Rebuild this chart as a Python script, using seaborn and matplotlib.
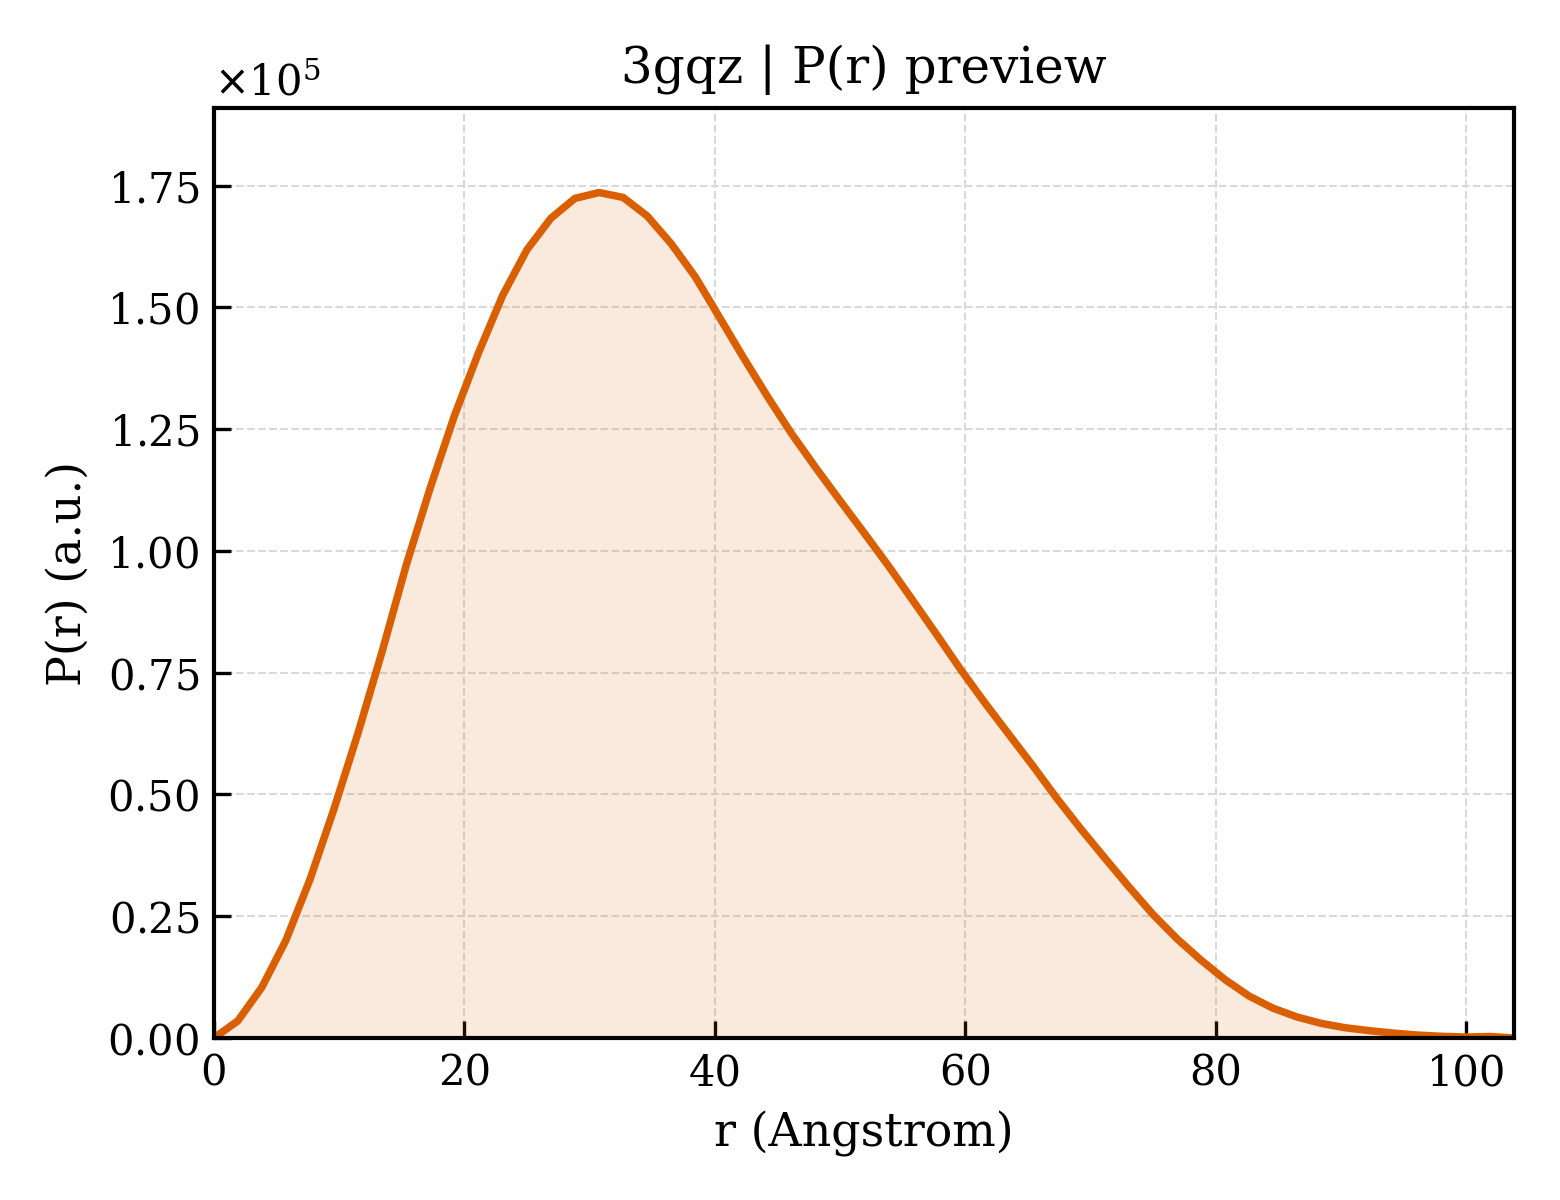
import matplotlib
matplotlib.use("Agg")
import matplotlib.pyplot as plt
import seaborn as sns
import pandas as pd

sns.set_style("white")
plt.rcParams['font.family'] = ['DejaVu Serif']
plt.rcParams['text.color'] = 'black'
plt.rcParams['axes.labelcolor'] = 'black'
plt.rcParams['xtick.color'] = 'black'
plt.rcParams['ytick.color'] = 'black'

# P(r) curve (r in Angstrom, P in a.u.)
r_vals = [0.00, 1.92, 3.84, 5.77, 7.69, 9.61, 11.53, 13.46, 15.38, 17.30,
          19.22, 21.14, 23.07, 24.99, 26.91, 28.83, 30.76, 32.68, 34.60, 36.52,
          38.44, 40.37, 42.29, 44.21, 46.13, 48.06, 49.98, 51.90, 53.82, 55.74,
          57.67, 59.59, 61.51, 63.43, 65.36, 67.28, 69.20, 71.12, 73.04, 74.97,
          76.89, 78.81, 80.73, 82.66, 84.58, 86.50, 88.42, 90.34, 92.27, 94.19,
          96.11, 98.03, 99.96, 101.88, 103.80]
p_vals = [0.0, 3.5, 10.4, 20.1, 32.6, 47.1, 62.7, 79.5, 97.2, 113.1,
          127.8, 140.7, 152.5, 161.8, 168.3, 172.4, 173.6, 172.6, 168.8, 163.1,
          156.3, 148.0, 139.7, 131.7, 124.1, 117.1, 110.4, 103.8, 97.1, 90.1,
          83.0, 75.8, 69.0, 62.5, 56.0, 49.3, 43.0, 37.0, 31.1, 25.4,
          20.4, 16.0, 12.0, 8.6, 6.1, 4.3, 3.0, 2.1, 1.5, 1.0,
          0.6, 0.35, 0.2, 0.3, 0.0]

df = pd.DataFrame({'r': r_vals, 'P': [v * 1000 for v in p_vals]})
color = '#D95F02'

fig, ax = plt.subplots(figsize=(5.2, 4), dpi=300)
sns.lineplot(data=df, x='r', y='P', color=color, linewidth=1.8, ax=ax)
ax.fill_between(df['r'], df['P'], color=color, alpha=0.13, linewidth=0)

ax.set_xlim(0, df['r'].max())
ax.set_ylim(0, df['P'].max() * 1.1)
ax.set_xlabel('r (Angstrom)', fontsize=11)
ax.set_ylabel('P(r) (a.u.)', fontsize=11)
ax.set_title('3gqz | P(r) preview', fontsize=12)

ax.ticklabel_format(axis='y', style='sci', scilimits=(0, 0), useMathText=True)
ax.yaxis.get_offset_text().set_fontsize(10)
ax.tick_params(direction='in', length=4, width=0.8, labelsize=10,
               left=True, bottom=True, top=False, right=False)
for s in ax.spines.values():
    s.set_linewidth(1.0)
    s.set_color('black')
ax.grid(True, linestyle='--', linewidth=0.5, color='0.85')

plt.subplots_adjust(left=0.137, right=0.9705, top=0.91, bottom=0.135)
plt.savefig('out.png', dpi=300)
